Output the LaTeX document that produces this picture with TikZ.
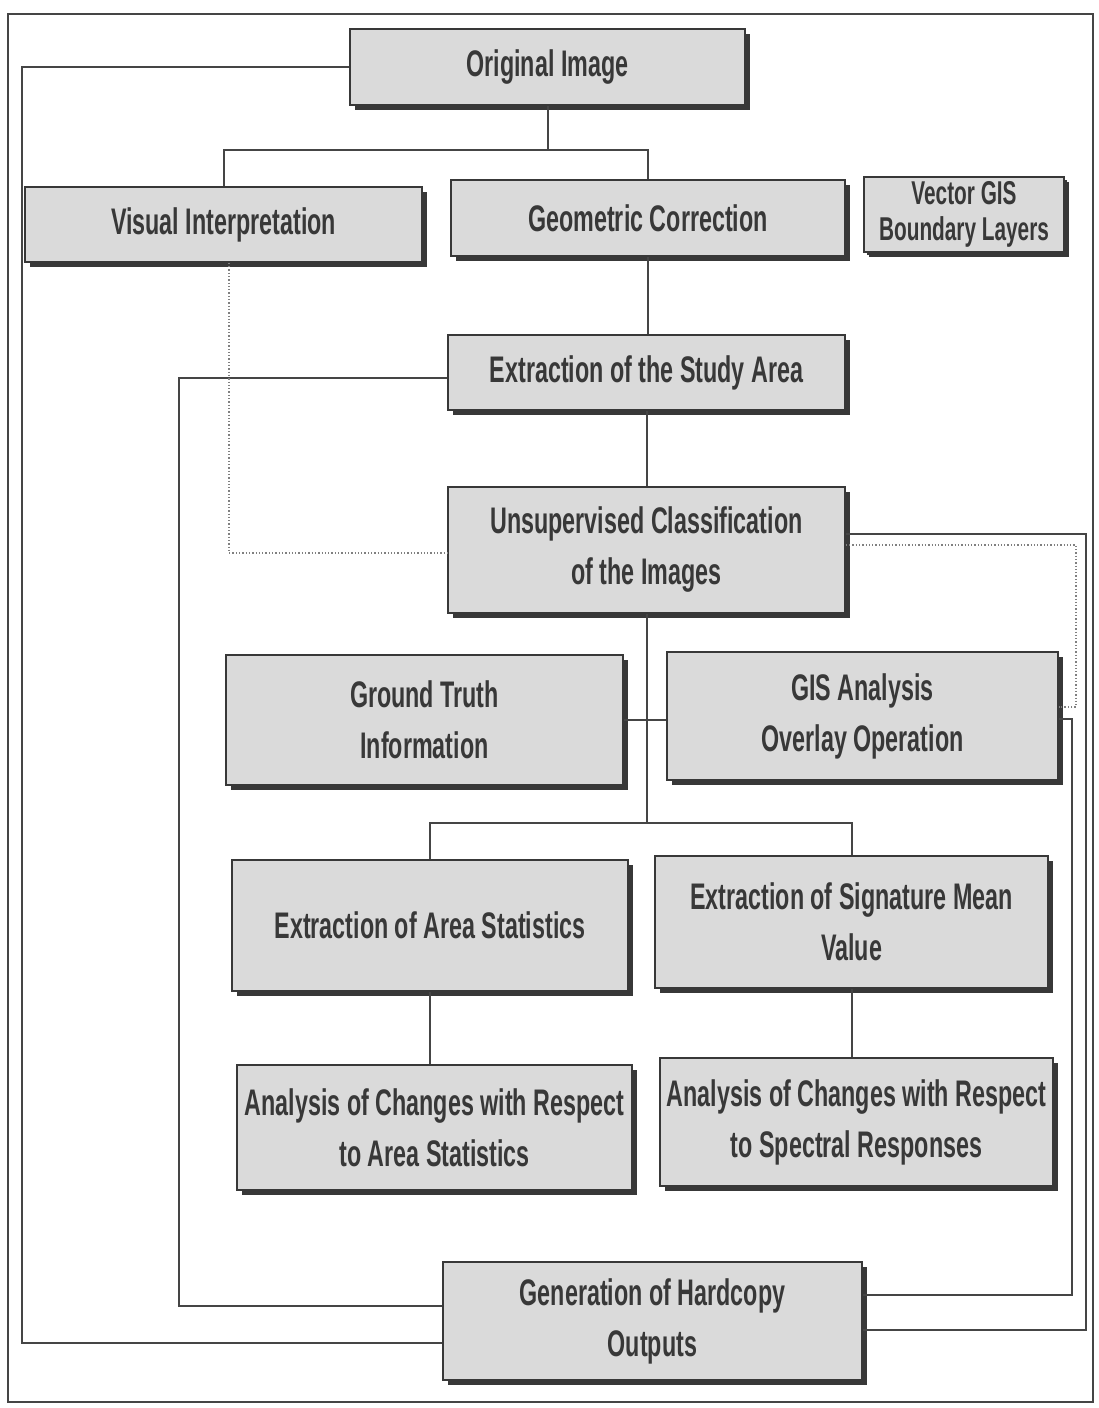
\documentclass[tikz,border=0pt]{standalone}
\usepackage{fontspec}
\newfontfamily\boxfont{Liberation Sans Bold}[FakeStretch=0.63]
\usetikzlibrary{shadows}
\definecolor{boxfill}{HTML}{DADADA}
\definecolor{ink}{HTML}{383838}
\definecolor{wirec}{HTML}{454545}
\newcommand\mkbox[7][]{\node[bx,#1,minimum width={#5-#3},minimum height={#6-#4}] (#2) at ({(#3+#5)/2},{(#4+#6)/2}) {#7};}
\begin{document}
\begin{tikzpicture}[x=1pt,y=-1pt,
  bx/.style={draw=ink, line width=1.5pt, fill=boxfill, inner sep=0pt, align=center, text=ink,
    font={\boxfont\fontsize{37pt}{51pt}\selectfont},
    drop shadow={shadow xshift=5pt, shadow yshift=-5pt, fill=ink, opacity=1}},
  smallbx/.style={font={\boxfont\fontsize{33pt}{36pt}\selectfont},
    drop shadow={shadow xshift=3pt, shadow yshift=-3pt, fill=ink, opacity=1}},
  wire/.style={draw=wirec, line width=2pt},
  dots/.style={draw=gray, line width=1.3pt, dotted},
  frame/.style={draw=wirec, line width=1.5pt}]
\useasboundingbox (0,0) rectangle (1098,1408);
\draw[frame] (8,14) rectangle (1093,1402);

\mkbox{orig}{350}{29}{745}{105}{Original Image}
\mkbox{vis}{25}{187}{422}{262}{Visual Interpretation}
\mkbox{geo}{451}{180}{845}{256}{Geometric Correction}
\mkbox[smallbx]{vec}{864}{177}{1064}{252}{Vector GIS\\Boundary Layers}
\mkbox{ext}{448}{335}{845}{410}{Extraction of the Study Area}
\mkbox{uns}{448}{487}{845}{613}{Unsupervised Classification\\of the Images}
\mkbox{gt}{226}{655}{623}{785}{Ground Truth\\Information}
\mkbox{gis}{667}{652}{1058}{780}{GIS Analysis\\Overlay Operation}
\mkbox{area}{232}{860}{628}{991}{Extraction of Area Statistics}
\mkbox{sig}{655}{856}{1048}{988}{Extraction of Signature Mean\\Value}
\mkbox{anA}{237}{1065}{632}{1190}{Analysis of Changes with Respect\\to Area Statistics}
\mkbox{anS}{660}{1058}{1053}{1186}{Analysis of Changes with Respect\\to Spectral Responses}
\mkbox{gen}{443}{1262}{862}{1380}{Generation of Hardcopy\\Outputs}

% tree connectors
\draw[wire] (orig.south) -- (orig.south |- 0,150);
\draw[wire] (vis.north) -- (vis.north |- 0,150) -- (geo.north |- 0,150) -- (geo.north);
\draw[wire] (geo.south) -- (geo.south |- ext.north);
\draw[wire] (ext.south) -- (ext.south |- uns.north);
\draw[wire] (uns.south) -- (uns.south |- 0,823);
\draw[wire] (gt.east) -- (gis.west |- gt.east);
\draw[wire] (area.north) -- (area.north |- 0,823) -- (sig.north |- 0,823) -- (sig.north);
\draw[wire] (area.south) -- (area.south |- anA.north);
\draw[wire] (sig.south) -- (sig.south |- anS.north);

% loops to the output box
\draw[wire] (orig.west) -- (22,67) -- (22,1343) -- (gen.west |- 0,1343);
\draw[wire] (ext.west |- 0,378) -- (179,378) -- (179,1306) -- (gen.west |- 0,1306);
\draw[wire] (uns.east |- 0,534) -- (1086,534) -- (1086,1330) -- (gen.east |- 0,1330);
\draw[wire] (gis.east |- 0,719) -- (1072,719) -- (1072,1295) -- (gen.east |- 0,1295);

% dotted links
\draw[dots] (vis.south -| 229,0) -- (229,553) -- (uns.west |- 0,553);
\draw[dots] (uns.east |- 0,545) -- (1076,545) -- (1076,707) -- (gis.east |- 0,707);
\end{tikzpicture}
\end{document}
